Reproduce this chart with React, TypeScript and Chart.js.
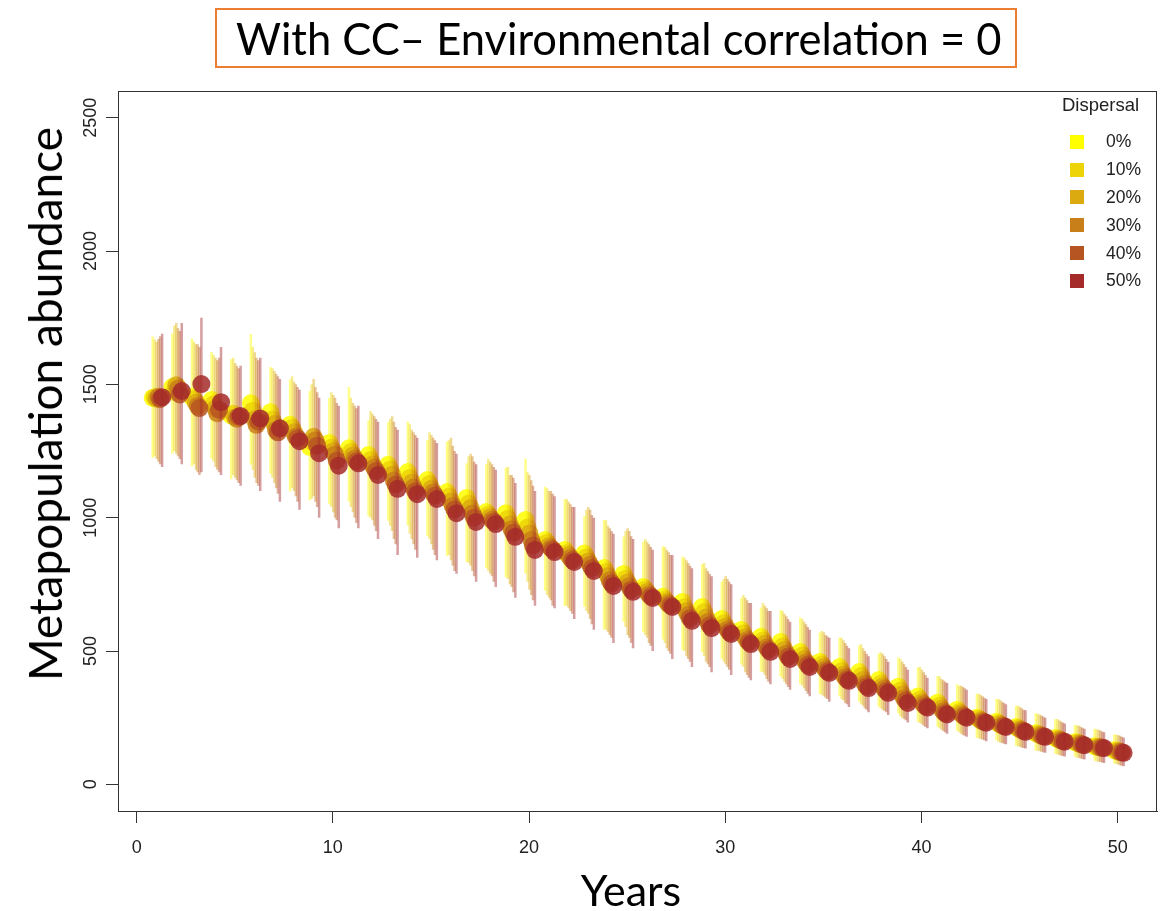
import React, { useEffect, useRef } from "react";
import { Chart, registerables } from "chart.js";

Chart.register(...registerables);

const YEARS = [1,2,3,4,5,6,7,8,9,10,11,12,13,14,15,16,17,18,19,20,21,22,23,24,25,26,27,28,29,30,31,32,33,34,35,36,37,38,39,40,41,42,43,44,45,46,47,48,49,50];

const SERIES_NAMES = ["0%", "10%", "20%", "30%", "40%", "50%"];
const SERIES_COLORS = ["#FFFF00", "#EDD408", "#DBAA11", "#C97F19", "#B75522", "#A52A2A"];
const X_OFFSETS = [-0.18, -0.08, 0.02, 0.11, 0.2, 0.3];

const X_TICKS = [0, 10, 20, 30, 40, 50];
const Y_TICKS = [0, 500, 1000, 1500, 2000, 2500];

const MEAN_0 = [1449,1490,1452,1441,1384,1429,1395,1348,1265,1280,1260,1235,1198,1171,1141,1096,1074,1021,1017,991,916,879,866,811,789,740,703,684,665,620,579,553,534,496,459,440,421,391,366,329,306,280,250,235,215,192,174,158,143,128];
const MEAN_10 = [1452,1472,1445,1425,1390,1401,1368,1336,1286,1262,1246,1216,1181,1149,1126,1079,1053,1011,996,963,906,867,851,796,771,731,693,664,646,604,566,539,517,483,449,424,406,377,351,317,295,271,246,229,211,189,171,156,141,126];
const MEAN_20 = [1446,1497,1431,1409,1376,1369,1351,1320,1303,1249,1233,1199,1161,1131,1108,1061,1036,1001,974,941,894,859,836,781,757,721,684,649,626,591,551,527,504,469,440,411,391,366,337,307,283,265,240,225,207,186,168,154,140,124];
const MEAN_30 = [1453,1484,1419,1392,1371,1348,1328,1304,1290,1236,1221,1187,1139,1113,1094,1044,1016,992,957,916,886,849,823,765,743,712,677,635,609,580,541,514,490,457,431,402,377,358,323,300,274,259,237,221,203,183,165,151,139,122];
const MEAN_40 = [1445,1462,1411,1405,1379,1360,1320,1298,1270,1214,1212,1175,1124,1099,1083,1031,1000,985,943,896,880,841,811,754,730,705,671,623,597,571,533,505,479,448,424,394,368,350,314,293,267,254,234,218,200,180,162,149,137,120];
const MEAN_50 = [1452,1475,1501,1433,1381,1372,1335,1287,1242,1195,1204,1160,1108,1088,1070,1017,984,976,928,879,871,834,800,744,722,699,665,613,586,564,526,497,470,440,418,388,361,343,305,288,262,250,231,215,197,178,160,147,136,118];

const HI_0 = [1679,1690,1672,1621,1594,1689,1565,1518,1475,1450,1490,1365,1358,1361,1291,1286,1204,1201,1187,1221,1116,1069,1006,991,929,910,893,854,825,760,699,663,654,626,569,550,521,491,476,439,406,375,340,320,295,267,244,223,208,188];
const LO_0 = [1224,1240,1192,1221,1144,1199,1165,1098,1065,1050,1060,1005,988,971,931,856,834,811,777,791,726,669,666,581,609,570,543,504,495,470,449,423,404,376,339,330,311,291,266,234,216,200,175,165,145,127,114,103,88,78];
const HI_10 = [1668,1720,1660,1610,1600,1640,1560,1530,1500,1470,1450,1400,1370,1350,1320,1290,1230,1220,1190,1170,1110,1070,1030,990,950,920,890,850,830,770,710,680,650,620,575,550,525,495,470,440,405,370,340,320,295,265,245,222,207,186];
const LO_10 = [1230,1250,1200,1210,1160,1180,1150,1110,1070,1040,1040,1000,970,940,920,860,830,800,770,760,710,670,650,580,590,560,530,500,480,460,440,420,395,370,335,320,300,285,255,230,210,195,172,160,143,126,112,101,86,76];
const HI_20 = [1660,1730,1650,1600,1580,1620,1550,1510,1520,1460,1430,1390,1380,1330,1310,1300,1240,1210,1160,1160,1100,1060,1040,970,960,910,880,840,810,780,700,670,640,610,570,540,510,490,460,430,395,370,335,315,290,262,240,220,205,185];
const LO_20 = [1220,1240,1180,1190,1150,1150,1130,1100,1080,1020,1020,990,950,920,900,840,820,790,750,730,700,660,640,570,560,550,510,480,460,450,420,410,385,360,330,315,295,280,250,225,205,190,170,157,140,124,110,99,85,74];
const HI_30 = [1670,1710,1650,1590,1570,1600,1540,1500,1490,1450,1420,1380,1360,1320,1300,1270,1230,1200,1160,1140,1100,1050,1030,960,950,900,870,830,800,770,690,660,630,600,560,530,500,480,450,420,390,365,330,310,285,258,236,216,202,182];
const LO_30 = [1210,1230,1170,1180,1140,1130,1110,1080,1060,1000,1000,970,920,900,880,820,800,780,740,710,690,650,620,560,550,530,500,470,450,440,410,395,375,350,325,305,285,275,245,220,200,185,168,155,138,122,108,97,84,72];
const HI_40 = [1680,1700,1640,1600,1560,1590,1530,1490,1470,1430,1410,1370,1340,1310,1290,1250,1210,1190,1150,1120,1090,1040,1010,950,930,890,860,820,790,760,680,650,620,590,555,520,490,470,440,410,385,360,325,305,280,254,232,212,198,178];
const LO_40 = [1200,1220,1160,1170,1130,1120,1090,1060,1040,990,980,950,900,880,860,800,780,760,720,690,670,640,600,550,530,520,490,460,440,430,400,385,365,340,320,300,280,270,240,215,195,182,165,152,136,120,106,95,82,70];
const HI_50 = [1690,1730,1750,1640,1570,1600,1520,1480,1450,1420,1420,1360,1330,1300,1280,1240,1200,1180,1130,1100,1080,1040,1000,940,920,880,860,810,780,750,680,650,610,580,550,510,480,460,430,400,380,355,320,300,278,250,228,208,195,176];
const LO_50 = [1190,1200,1170,1160,1120,1100,1060,1030,1000,960,960,920,860,850,840,790,760,740,700,670,660,620,580,530,510,500,470,440,420,410,390,375,355,330,310,290,270,260,232,210,190,178,162,150,134,118,104,93,80,68];

const MEANS = [MEAN_0, MEAN_10, MEAN_20, MEAN_30, MEAN_40, MEAN_50];
const HIS = [HI_0, HI_10, HI_20, HI_30, HI_40, HI_50];
const LOS = [LO_0, LO_10, LO_20, LO_30, LO_40, LO_50];

function rgba(hex: string, a: number): string {
  const r = parseInt(hex.slice(1, 3), 16);
  const g = parseInt(hex.slice(3, 5), 16);
  const b = parseInt(hex.slice(5, 7), 16);
  return `rgba(${r},${g},${b},${a})`;
}

const framePlugin = {
  id: "frame",
  afterDraw(chart: any) {
    const { ctx, chartArea } = chart;
    ctx.save();
    ctx.strokeStyle = "#333";
    ctx.lineWidth = 1;
    ctx.strokeRect(chartArea.left + 0.5, chartArea.top + 0.5, chartArea.right - chartArea.left - 1, chartArea.bottom - chartArea.top);
    ctx.restore();
  },
};

export default function App() {
  const ref = useRef<HTMLCanvasElement | null>(null);

  useEffect(() => {
    if (!ref.current) return;
    const datasets: any[] = [];
    SERIES_NAMES.forEach((name, k) => {
      const barData: any[] = [];
      YEARS.forEach((yr, i) => {
        const x = yr + X_OFFSETS[k];
        barData.push({ x, y: LOS[k][i] });
        barData.push({ x, y: HIS[k][i] });
        barData.push({ x, y: null });
      });
      datasets.push({
        label: name + " range",
        data: barData,
        showLine: true,
        spanGaps: false,
        borderColor: rgba(SERIES_COLORS[k], 0.45),
        borderWidth: 2.5,
        pointRadius: 0,
        pointHoverRadius: 0,
        order: 100 - 2 * k,
      });
      datasets.push({
        label: name,
        data: YEARS.map((yr, i) => ({ x: yr + X_OFFSETS[k], y: MEANS[k][i] })),
        showLine: false,
        pointRadius: 9,
        pointHoverRadius: 9,
        pointBorderWidth: 0,
        backgroundColor: rgba(SERIES_COLORS[k], 0.85),
        borderColor: rgba(SERIES_COLORS[k], 0.85),
        order: 99 - 2 * k,
      });
    });

    const chart = new Chart(ref.current, {
      type: "scatter",
      data: { datasets },
      plugins: [framePlugin],
      options: {
        responsive: false,
        animation: false,
        layout: { autoPadding: false, padding: { top: 91, right: 4, left: 0, bottom: 0 } },
        plugins: { legend: { display: false }, tooltip: { enabled: false } },
        scales: {
          x: {
            type: "linear",
            min: -0.95,
            max: 52,
            afterFit: (s: any) => { s.height = 100; s.paddingRight = 0; s.paddingLeft = 0; },
            afterBuildTicks: (s: any) => { s.ticks = X_TICKS.map((v) => ({ value: v })); },
            ticks: {
              font: { family: "'Liberation Sans', Arial, sans-serif", size: 18 },
              color: "#222",
              padding: 14,
              callback: (v: any) => String(v),
            },
            grid: { drawOnChartArea: false, drawTicks: true, tickLength: 12, tickColor: "#333" },
            border: { display: true, color: "#333" },
          },
          y: {
            type: "linear",
            min: -100,
            max: 2600,
            afterFit: (s: any) => { s.width = 118; },
            afterBuildTicks: (s: any) => { s.ticks = Y_TICKS.map((v) => ({ value: v })); },
            ticks: {
              font: { family: "'Liberation Sans', Arial, sans-serif", size: 18 },
              color: "#222",
              padding: -5,
              minRotation: 90,
              maxRotation: 90,
              crossAlign: "center",
              callback: (v: any) => String(v),
            },
            grid: { drawOnChartArea: false, drawTicks: true, tickLength: 12, tickColor: "#333" },
            border: { display: true, color: "#333" },
          },
        },
      },
    });
    return () => chart.destroy();
  }, []);

  return (
    <div style={{ position: "absolute", left: 0, top: 0, width: 1161, height: 911, background: "#fff", overflow: "hidden" }}>
      <canvas ref={ref} width={1161} height={911} style={{ position: "absolute", left: 0, top: 0, width: 1161, height: 911 }} />
      <div
        style={{
          position: "absolute", left: 215, top: 8, width: 802, height: 60, boxSizing: "border-box",
          border: "2px solid #ED7D31", fontFamily: "Lato, 'Open Sans', sans-serif", fontSize: 43.5,
          lineHeight: "56px", paddingLeft: 19, color: "#000", whiteSpace: "nowrap",
        }}
      >
        With CC– Environmental correlation = 0
      </div>
      <div
        style={{
          position: "absolute", left: 631, top: 889, transform: "translate(-50%,-50%)",
          fontFamily: "Lato, 'Open Sans', sans-serif", fontSize: 43, lineHeight: 1, color: "#000", whiteSpace: "nowrap",
        }}
      >
        Years
      </div>
      <div
        style={{
          position: "absolute", left: 45, top: 404, transform: "translate(-50%,-50%) rotate(-90deg)",
          fontFamily: "Lato, 'Open Sans', sans-serif", fontSize: 46, lineHeight: 1, color: "#000", whiteSpace: "nowrap",
        }}
      >
        Metapopulation abundance
      </div>
      <div style={{ position: "absolute", left: 1062, top: 94, fontFamily: "'Liberation Sans', Arial, sans-serif", color: "#222" }}>
        <div style={{ fontSize: 18.5, lineHeight: "22px", marginBottom: 12 }}>Dispersal</div>
        {SERIES_NAMES.map((n, k) => (
          <div key={n} style={{ display: "flex", alignItems: "center", height: 27.8, fontSize: 17.5 }}>
            <span style={{ display: "inline-block", width: 14, height: 14, background: SERIES_COLORS[k], marginLeft: 8, marginRight: 22 }} />
            <span>{n}</span>
          </div>
        ))}
      </div>
    </div>
  );
}
